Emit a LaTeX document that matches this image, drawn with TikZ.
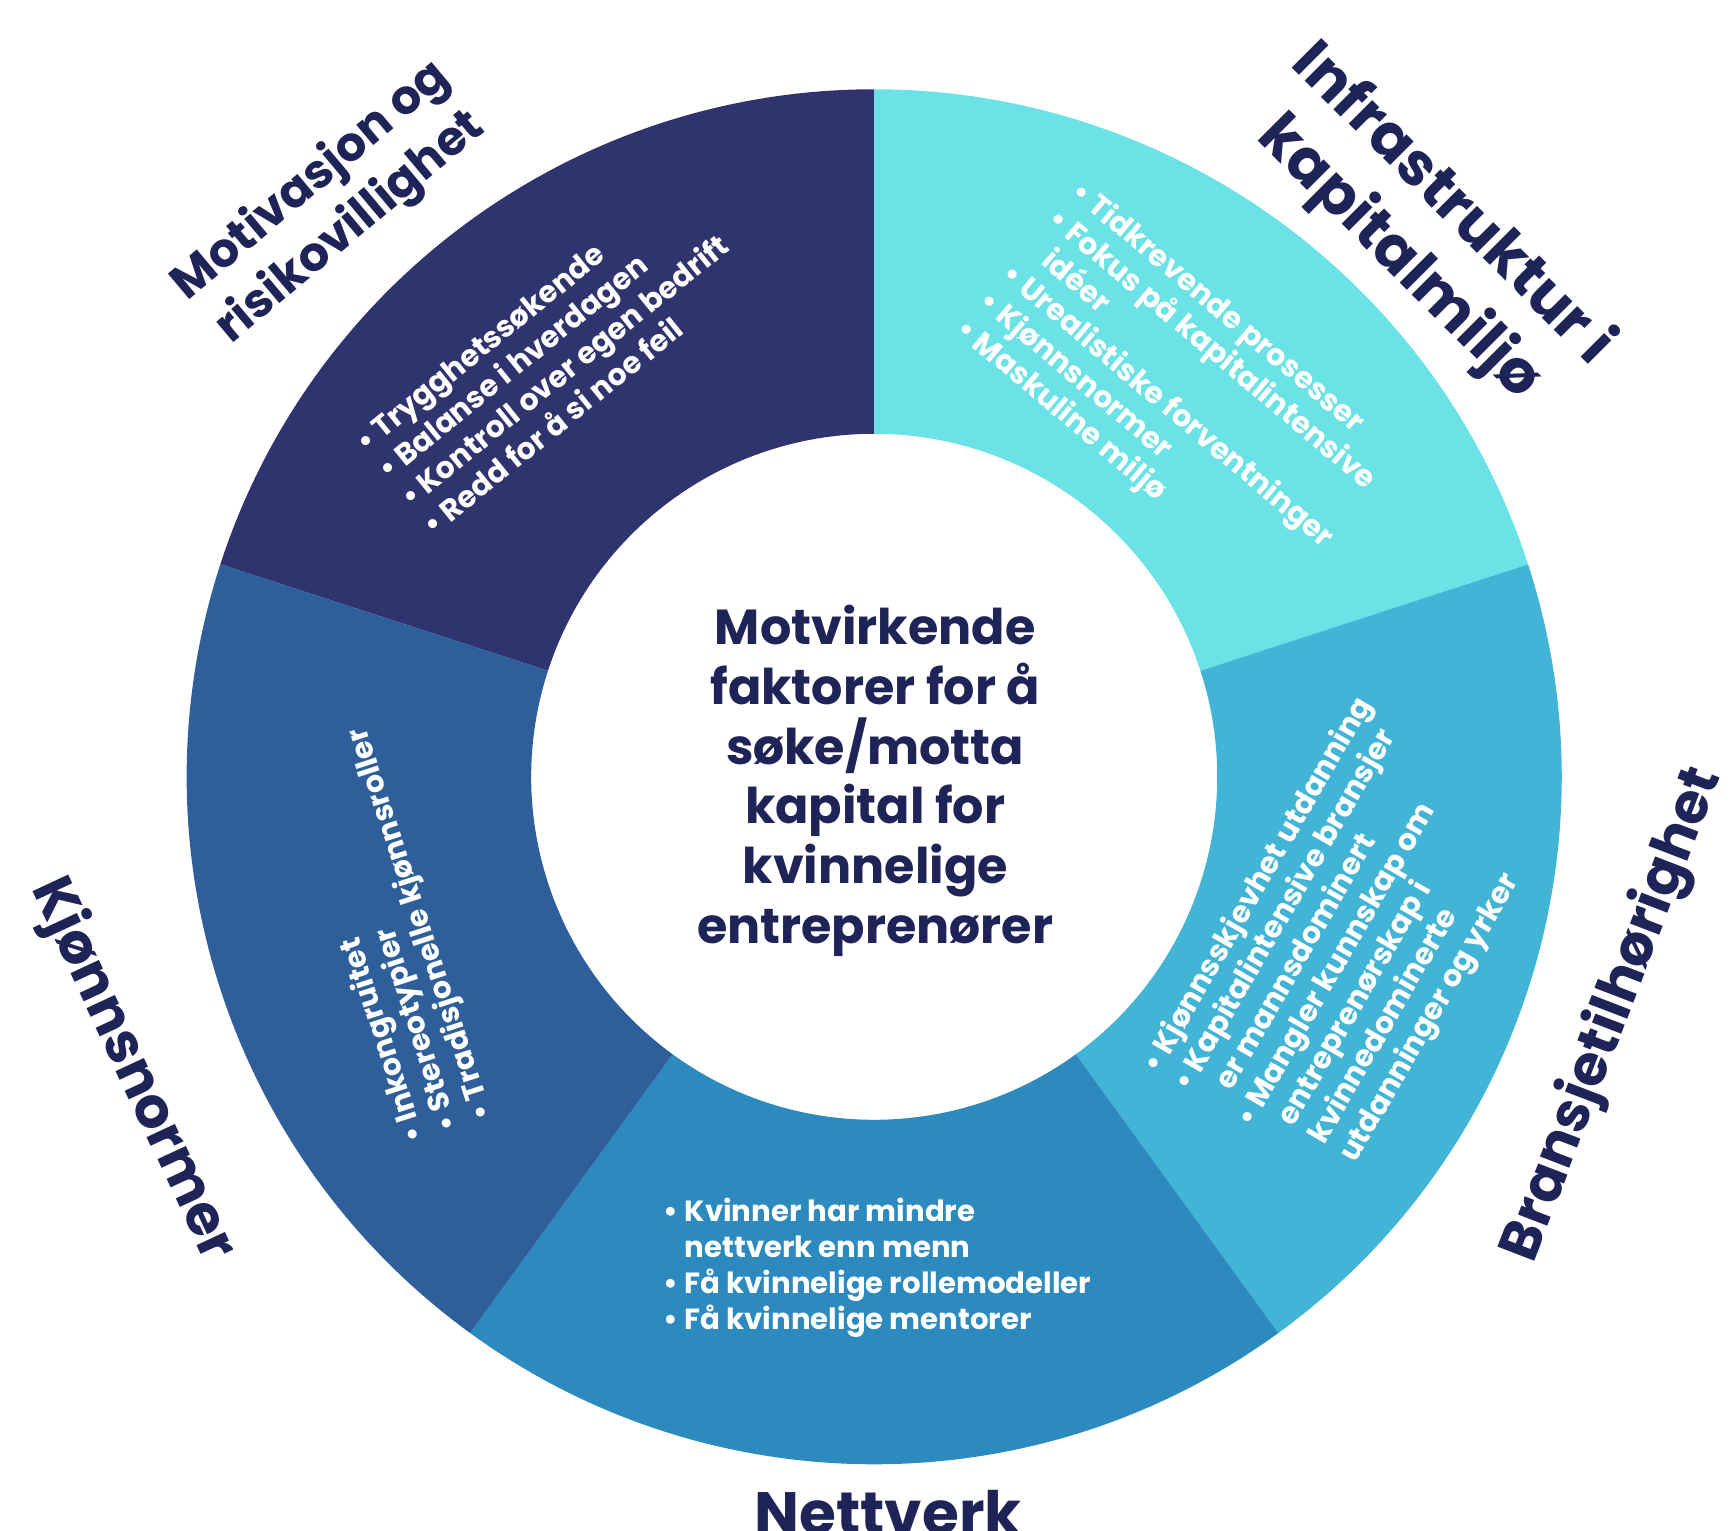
\documentclass[tikz,border=0pt]{standalone}
\usepackage{fontspec}
\setmainfont{Poppins}
\usepackage{tikz}

\definecolor{navy}{HTML}{1F2458}
\definecolor{motcol}{HTML}{30346E}
\definecolor{infcol}{HTML}{6AE2E6}
\definecolor{brancol}{HTML}{42B5D6}
\definecolor{nettcol}{HTML}{2D8ABE}
\definecolor{kjcol}{HTML}{2E5F9A}

\newcommand{\bul}{•\ }
\newcommand{\cont}{\hphantom{•\ }}

\begin{document}
\begin{tikzpicture}
	[head/.style={font=\fontsize{17}{21.5}\selectfont\bfseries, text=navy, align=center, inner sep=0pt},
	items/.style={font=\fontsize{8.5}{10.2}\selectfont\bfseries, text=white, align=left, inner sep=0pt, anchor=north west}]
	\useasboundingbox (-8.742,-7.542) rectangle (8.558,7.768);
	% ring segments
	\fill[motcol] (90:3.43) arc[start angle=90, end angle=162, radius=3.43] -- (162:6.875) arc[start angle=162, end angle=90, radius=6.875] -- cycle;
	\fill[infcol] (18:3.43) arc[start angle=18, end angle=90, radius=3.43] -- (90:6.875) arc[start angle=90, end angle=18, radius=6.875] -- cycle;
	\fill[brancol] (-54:3.43) arc[start angle=-54, end angle=18, radius=3.43] -- (18:6.875) arc[start angle=18, end angle=-54, radius=6.875] -- cycle;
	\fill[nettcol] (-126:3.43) arc[start angle=-126, end angle=-54, radius=3.43] -- (-54:6.875) arc[start angle=-54, end angle=-126, radius=6.875] -- cycle;
	\fill[kjcol] (162:3.43) arc[start angle=162, end angle=234, radius=3.43] -- (234:6.875) arc[start angle=234, end angle=162, radius=6.875] -- cycle;
	% centre
	\node[font=\fontsize{14}{17}\selectfont\bfseries, text=navy, align=center] (centre) at (0.01,-0.04) {Motvirkende\\faktorer for å\\søke/motta\\kapital for\\kvinnelige\\entreprenører};
	% headings
	\node[head, rotate=40, font=\fontsize{13.5}{17.3}\selectfont\bfseries] (motH) at (-5.43,5.72) {Motivasjon og\\risikovillighet};
	\node[head, rotate=-45] (infH) at (5.51,5.45) {Infrastruktur i\\kapitalmiljø};
	\node[head, rotate=69, font=\fontsize{16}{20}\selectfont\bfseries] (branH) at (7.39,-2.38) {Bransjetilhørighet};
	\node[head, anchor=base] (nettH) at (0.14,-7.58) {Nettverk};
	\node[head, rotate=-65, font=\fontsize{16}{20}\selectfont\bfseries] (kjH) at (-7.42,-2.93) {Kjønnsnormer};
	% bullet lists
	\node[items, rotate=39] (motL) at (-5.23,3.41) {\bul Trygghetssøkende\\\bul Balanse i hverdagen\\\bul Kontroll over egen bedrift\\\bul Redd for å si noe feil};
	\node[items, rotate=-40] (infL) at (2.11,6.01) {\bul Tidkrevende prosesser\\\bul Fokus på kapitalintensive\\\cont idéer\\\bul Urealistiske forventninger\\\bul Kjønnsnormer\\\bul Maskuline miljø};
	\node[items, rotate=60] (branL) at (2.63,-2.86) {\bul Kjønnsskjevhet utdanning\\\bul Kapitalintensive bransjer\\\cont er mannsdominert\\\bul Mangler kunnskap om\\\cont entreprenørskap i\\\cont kvinnedominerte\\\cont utdanninger og yrker};
	\node[items, font=\fontsize{8.3}{10.2}\selectfont\bfseries] (nettL) at (-2.11,-4.21) {\bul Kvinner har mindre\\\cont nettverk enn menn\\\bul Få kvinnelige rollemodeller\\\bul Få kvinnelige mentorer};
	\node[items, rotate=108] (kjL) at (-4.73,-3.70) {\bul Inkongruitet\\\bul Stereotypier\\\bul Tradisjonelle kjønnsroller};
\end{tikzpicture}
\end{document}
